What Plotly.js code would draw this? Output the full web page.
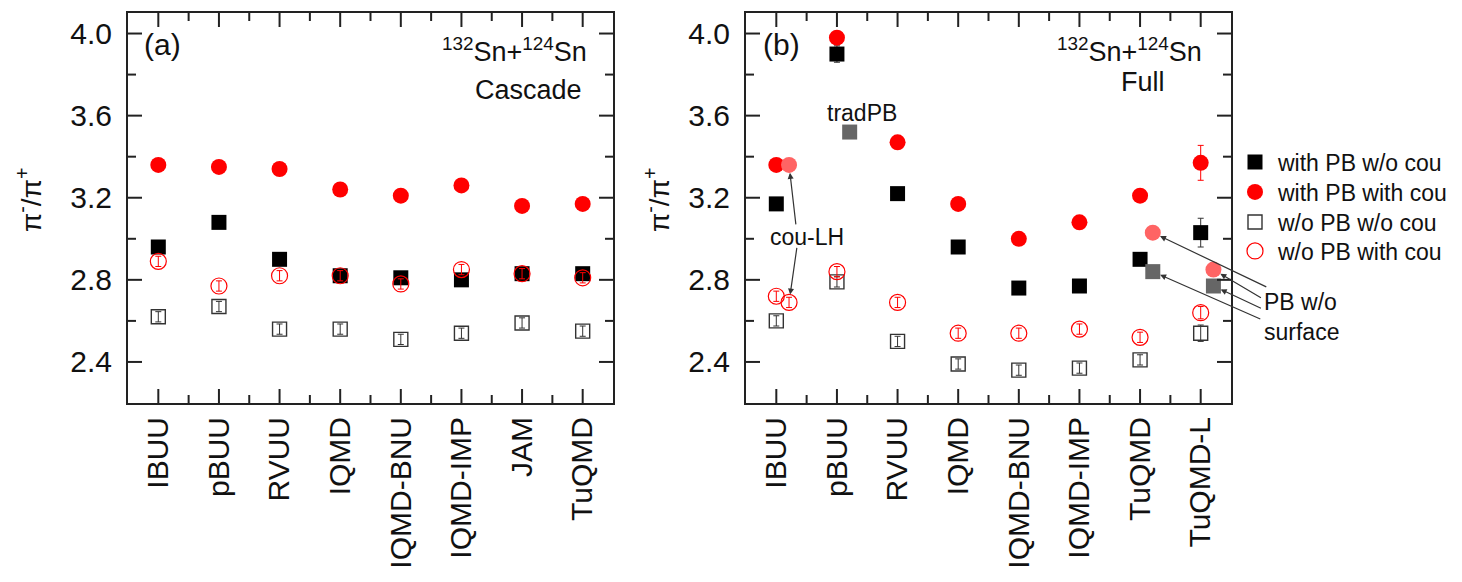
<!DOCTYPE html>
<html>
<head>
<meta charset="utf-8">
<script src="https://cdn.plot.ly/plotly-3.0.1.min.js"></script>
<style>html,body{margin:0;padding:0;background:#fff;}#chart{width:1462px;height:582px;}</style>
</head>
<body>
<div id="chart"></div>
<script>
// ---------- data ----------
const catsA = ['IBUU','pBUU','RVUU','IQMD','IQMD-BNU','IQMD-IMP','JAM','TuQMD'];
const catsB = ['IBUU','pBUU','RVUU','IQMD','IQMD-BNU','IQMD-IMP','TuQMD','TuQMD-L'];
const yTicks = [2.4, 2.8, 3.2, 3.6, 4.0];
const yMinor = [2.6, 3.0, 3.4, 3.8];

// (a) Cascade
const cascPbNoCou   = [2.96, 3.08, 2.90, 2.82, 2.81, 2.80, 2.83, 2.83];
const cascPbCou     = [3.36, 3.35, 3.34, 3.24, 3.21, 3.26, 3.16, 3.17];
const cascNoPbNoCou = [2.62, 2.67, 2.56, 2.56, 2.51, 2.54, 2.59, 2.55];
const cascNoPbCou   = [2.89, 2.77, 2.82, 2.82, 2.78, 2.85, 2.83, 2.81];
const errCascFilled = [0.01, 0.01, 0.01, 0.01, 0.01, 0.01, 0.01, 0.01];
const errCascOpen   = [0.025, 0.025, 0.025, 0.025, 0.025, 0.025, 0.025, 0.025];

// (b) Full
const fullPbNoCou   = [3.17, 3.90, 3.22, 2.96, 2.76, 2.77, 2.90, 3.03];
const fullPbCou     = [3.36, 3.98, 3.47, 3.17, 3.00, 3.08, 3.21, 3.37];
const fullNoPbNoCou = [2.60, 2.79, 2.50, 2.39, 2.36, 2.37, 2.41, 2.54];
const fullNoPbCou   = [2.72, 2.84, 2.69, 2.54, 2.54, 2.56, 2.52, 2.64];
const errFullPbNoCou   = [0.01, 0.04, 0.01, 0.01, 0.01, 0.01, 0.01, 0.07];
const errFullPbCou     = [0.01, 0.01, 0.01, 0.01, 0.01, 0.01, 0.01, 0.085];
const errFullNoPbNoCou = [0.025, 0.025, 0.025, 0.025, 0.025, 0.025, 0.025, 0.04];
const errFullNoPbCou   = [0.025, 0.025, 0.025, 0.025, 0.025, 0.025, 0.025, 0.03];

// variants in (b)
const couLHCats = ['IBUU'];
const couLHPbCou = [3.36];
const couLHNoPbCou = [2.69];
const tradPBCats = ['pBUU'];
const tradPBValues = [3.52];
const surfCats = ['TuQMD', 'TuQMD-L'];
const surfPbCou = [3.03, 2.85];
const surfPbNoCou = [2.84, 2.77];

// ---------- helpers ----------
const W = 1462, H = 582;
const px = v => v / W;
const py = v => 1 - v / H;
const idxA = cats => cats.map(c => catsA.indexOf(c));
const idxB = cats => cats.map(c => catsB.indexOf(c));
const OFF = 0.21;
const FONT = 'Liberation Sans, Arial, sans-serif';
const INK = '#111';
const RED = '#ff0000';
const LRED = '#ff6464';
const GRAY = '#666666';
const AX = '#222222';

// plot geometry (pixels) and ranges
const PLOT_TOP = 13, PLOT_BOT = 403, PLOT_W = 485;
const LEFT_A = 128, LEFT_B = 746;
const XR = [-0.5, 7.5], YR = [2.2, 4.1];

const xA = idxA(catsA), xB = idxB(catsB);

function mk(x, y, err, sym, size, color, lw, name, xa, ya, show, ecol, leg) {
  const t = {
    type: 'scatter', mode: 'markers', x: x, y: y, name: name,
    xaxis: xa, yaxis: ya, showlegend: show,
    marker: {symbol: sym, size: size, color: color, line: {color: color, width: lw}}
  };
  if (err) t.error_y = {type: 'data', array: err, visible: true, color: ecol || color, thickness: 1, width: 3};
  if (leg) t.legend = leg;
  return t;
}

const traces = [
  mk(xA, cascPbNoCou, errCascFilled, 'square', 15, '#000', 0, 'with PB w/o cou', 'x', 'y', true, null, 'legend'),
  mk(xA, cascPbCou, errCascFilled, 'circle', 16, RED, 0, 'with PB with cou', 'x', 'y', true, null, 'legend2'),
  mk(xA, cascNoPbNoCou, errCascOpen, 'square-open', 14, '#333', 1.4, 'w/o PB w/o cou', 'x', 'y', true, null, 'legend3'),
  mk(xA, cascNoPbCou, errCascOpen, 'circle-open', 16, RED, 1.2, 'w/o PB with cou', 'x', 'y', true, null, 'legend4'),

  mk(xB, fullNoPbNoCou, errFullNoPbNoCou, 'square-open', 14, '#333', 1.4, 'w/o PB w/o cou', 'x2', 'y2', false),
  mk(xB, fullNoPbCou, errFullNoPbCou, 'circle-open', 16, RED, 1.2, 'w/o PB with cou', 'x2', 'y2', false),
  mk(xB, fullPbNoCou, errFullPbNoCou, 'square', 15, '#000', 0, 'with PB w/o cou', 'x2', 'y2', false, '#333'),
  mk(xB, fullPbCou, errFullPbCou, 'circle', 16, RED, 0, 'with PB with cou', 'x2', 'y2', false),

  mk(idxB(couLHCats).map(v => v + OFF), couLHPbCou, null, 'circle', 16, LRED, 0, 'cou-LH', 'x2', 'y2', false),
  mk(idxB(couLHCats).map(v => v + OFF), couLHNoPbCou, [0.025], 'circle-open', 16, RED, 1.2, 'cou-LH', 'x2', 'y2', false),
  mk(idxB(tradPBCats).map(v => v + OFF), tradPBValues, null, 'square', 15, GRAY, 0, 'tradPB', 'x2', 'y2', false),
  mk(idxB(surfCats).map(v => v + OFF), surfPbCou, null, 'circle', 16, LRED, 0, 'PB w/o surface', 'x2', 'y2', false),
  mk(idxB(surfCats).map(v => v + OFF), surfPbNoCou, null, 'square', 15, GRAY, 0, 'PB w/o surface', 'x2', 'y2', false)
];

function xaxis(left, cats, anchor) {
  return {
    domain: [px(left), px(left + PLOT_W)], anchor: anchor, range: XR, tickmode: 'array',
    tickvals: cats.map((c, i) => i), ticktext: cats, tickangle: -90, ticks: '',
    showline: true, linecolor: AX, linewidth: 2, mirror: true,
    showgrid: false, zeroline: false,
    tickfont: {family: FONT, size: 30, color: INK}
  };
}
function yaxis(anchor) {
  return {
    domain: [py(PLOT_BOT), py(PLOT_TOP)], range: YR, anchor: anchor,
    tickmode: 'array', tickvals: yTicks, ticktext: yTicks.map(v => v.toFixed(1)), ticks: '',
    showline: true, linecolor: AX, linewidth: 2, mirror: true,
    showgrid: false, zeroline: false, ticklabelstandoff: 8,
    tickfont: {family: FONT, size: 30, color: INK}
  };
}

// inside tick marks on all four sides, placed through the axis geometry (paper-referenced, unclipped)
function tickShapes(left, nCats) {
  const s = [];
  const ln = {color: AX, width: 2};
  const xPix = v => left + (v - XR[0]) / (XR[1] - XR[0]) * PLOT_W;
  const yPix = v => PLOT_TOP + (YR[1] - v) / (YR[1] - YR[0]) * (PLOT_BOT - PLOT_TOP);
  const line = (x0, y0, x1, y1) => s.push({type: 'line', xref: 'paper', yref: 'paper',
    x0: px(x0), x1: px(x1), y0: py(y0), y1: py(y1), line: ln, layer: 'above'});
  const xt = [];
  for (let i = 0; i < nCats; i++) xt.push([i, 14]);
  for (let i = 0; i < nCats - 1; i++) xt.push([i + 0.5, 8]);
  xt.forEach(([v, L]) => {
    const X = xPix(v);
    line(X, PLOT_BOT, X, PLOT_BOT - L);
    line(X, PLOT_TOP, X, PLOT_TOP + L);
  });
  yTicks.map(v => [v, 14]).concat(yMinor.map(v => [v, 8])).forEach(([v, L]) => {
    const Y = yPix(v);
    line(left, Y, left + L, Y);
    line(left + PLOT_W, Y, left + PLOT_W - L, Y);
  });
  return s;
}

const txt = (text, x, y, xanchor, size, extra) => Object.assign({
  text: text, xref: 'paper', yref: 'paper', x: x, y: y, xanchor: xanchor, yanchor: 'middle',
  showarrow: false, font: {family: FONT, size: size, color: INK}
}, extra || {});

function arrow(xv, yv, axp, ayp, standoff) {
  return {
    text: '', xref: 'x2', yref: 'y2', x: xv, y: yv, ax: axp, ay: ayp,
    showarrow: true, arrowhead: 2, arrowsize: 1, arrowwidth: 1.2, arrowcolor: '#333', standoff: standoff
  };
}

const iIBUU = idxB(couLHCats)[0] + OFF;
const iSurf = idxB(surfCats).map(v => v + OFF);

const annotations = [
  txt('(a)', px(142), py(45), 'left', 30),
  txt('(b)', px(761), py(45), 'left', 30),
  txt('<sup>132</sup>Sn+<sup>124</sup>Sn', px(589), py(50), 'right', 27),
  txt('Cascade', px(584), py(90), 'right', 27),
  txt('<sup>132</sup>Sn+<sup>124</sup>Sn', px(1204), py(50), 'right', 27),
  txt('Full', px(1143), py(82), 'center', 27),
  txt('tradPB', px(862), py(113), 'center', 23),
  txt('cou-LH', px(807), py(237), 'center', 23),
  txt('PB w/o<br>surface', px(1262), py(317), 'left', 23, {align: 'left'}),
  txt('π<sup>-</sup>/π<sup>+</sup>', px(29), py(200), 'center', 28, {textangle: -90}),
  txt('π<sup>-</sup>/π<sup>+</sup>', px(657), py(200), 'center', 28, {textangle: -90}),
  arrow(iIBUU, couLHPbCou[0], 7, 61, 8),
  arrow(iIBUU, couLHNoPbCou[0], 8, -56, 8),
  arrow(iSurf[0], surfPbCou[0], 115, 55, 8),
  arrow(iSurf[1], surfPbCou[1], 49, 29, 8),
  arrow(iSurf[1], surfPbNoCou[1], 49, 23, 8),
  arrow(iSurf[0], surfPbNoCou[0], 109, 48, 8)
];

function leg(yc) {
  return {
    x: px(1232), y: py(yc), xanchor: 'left', yanchor: 'middle',
    font: {family: FONT, size: 23, color: INK}, bgcolor: 'rgba(0,0,0,0)',
    itemwidth: 36, borderwidth: 0
  };
}

const layout = {
  width: W, height: H, margin: {l: 0, r: 0, t: 0, b: 0},
  paper_bgcolor: '#fff', plot_bgcolor: '#fff',
  font: {family: FONT, color: INK},
  xaxis: xaxis(LEFT_A, catsA, 'y'),
  yaxis: yaxis('x'),
  xaxis2: xaxis(LEFT_B, catsB, 'y2'),
  yaxis2: yaxis('x2'),
  showlegend: true,
  legend: leg(162), legend2: leg(192), legend3: leg(222), legend4: leg(251),
  shapes: tickShapes(LEFT_A, catsA.length).concat(tickShapes(LEFT_B, catsB.length)),
  annotations: annotations
};

Plotly.newPlot('chart', traces, layout, {displayModeBar: false});
</script>
</body>
</html>
